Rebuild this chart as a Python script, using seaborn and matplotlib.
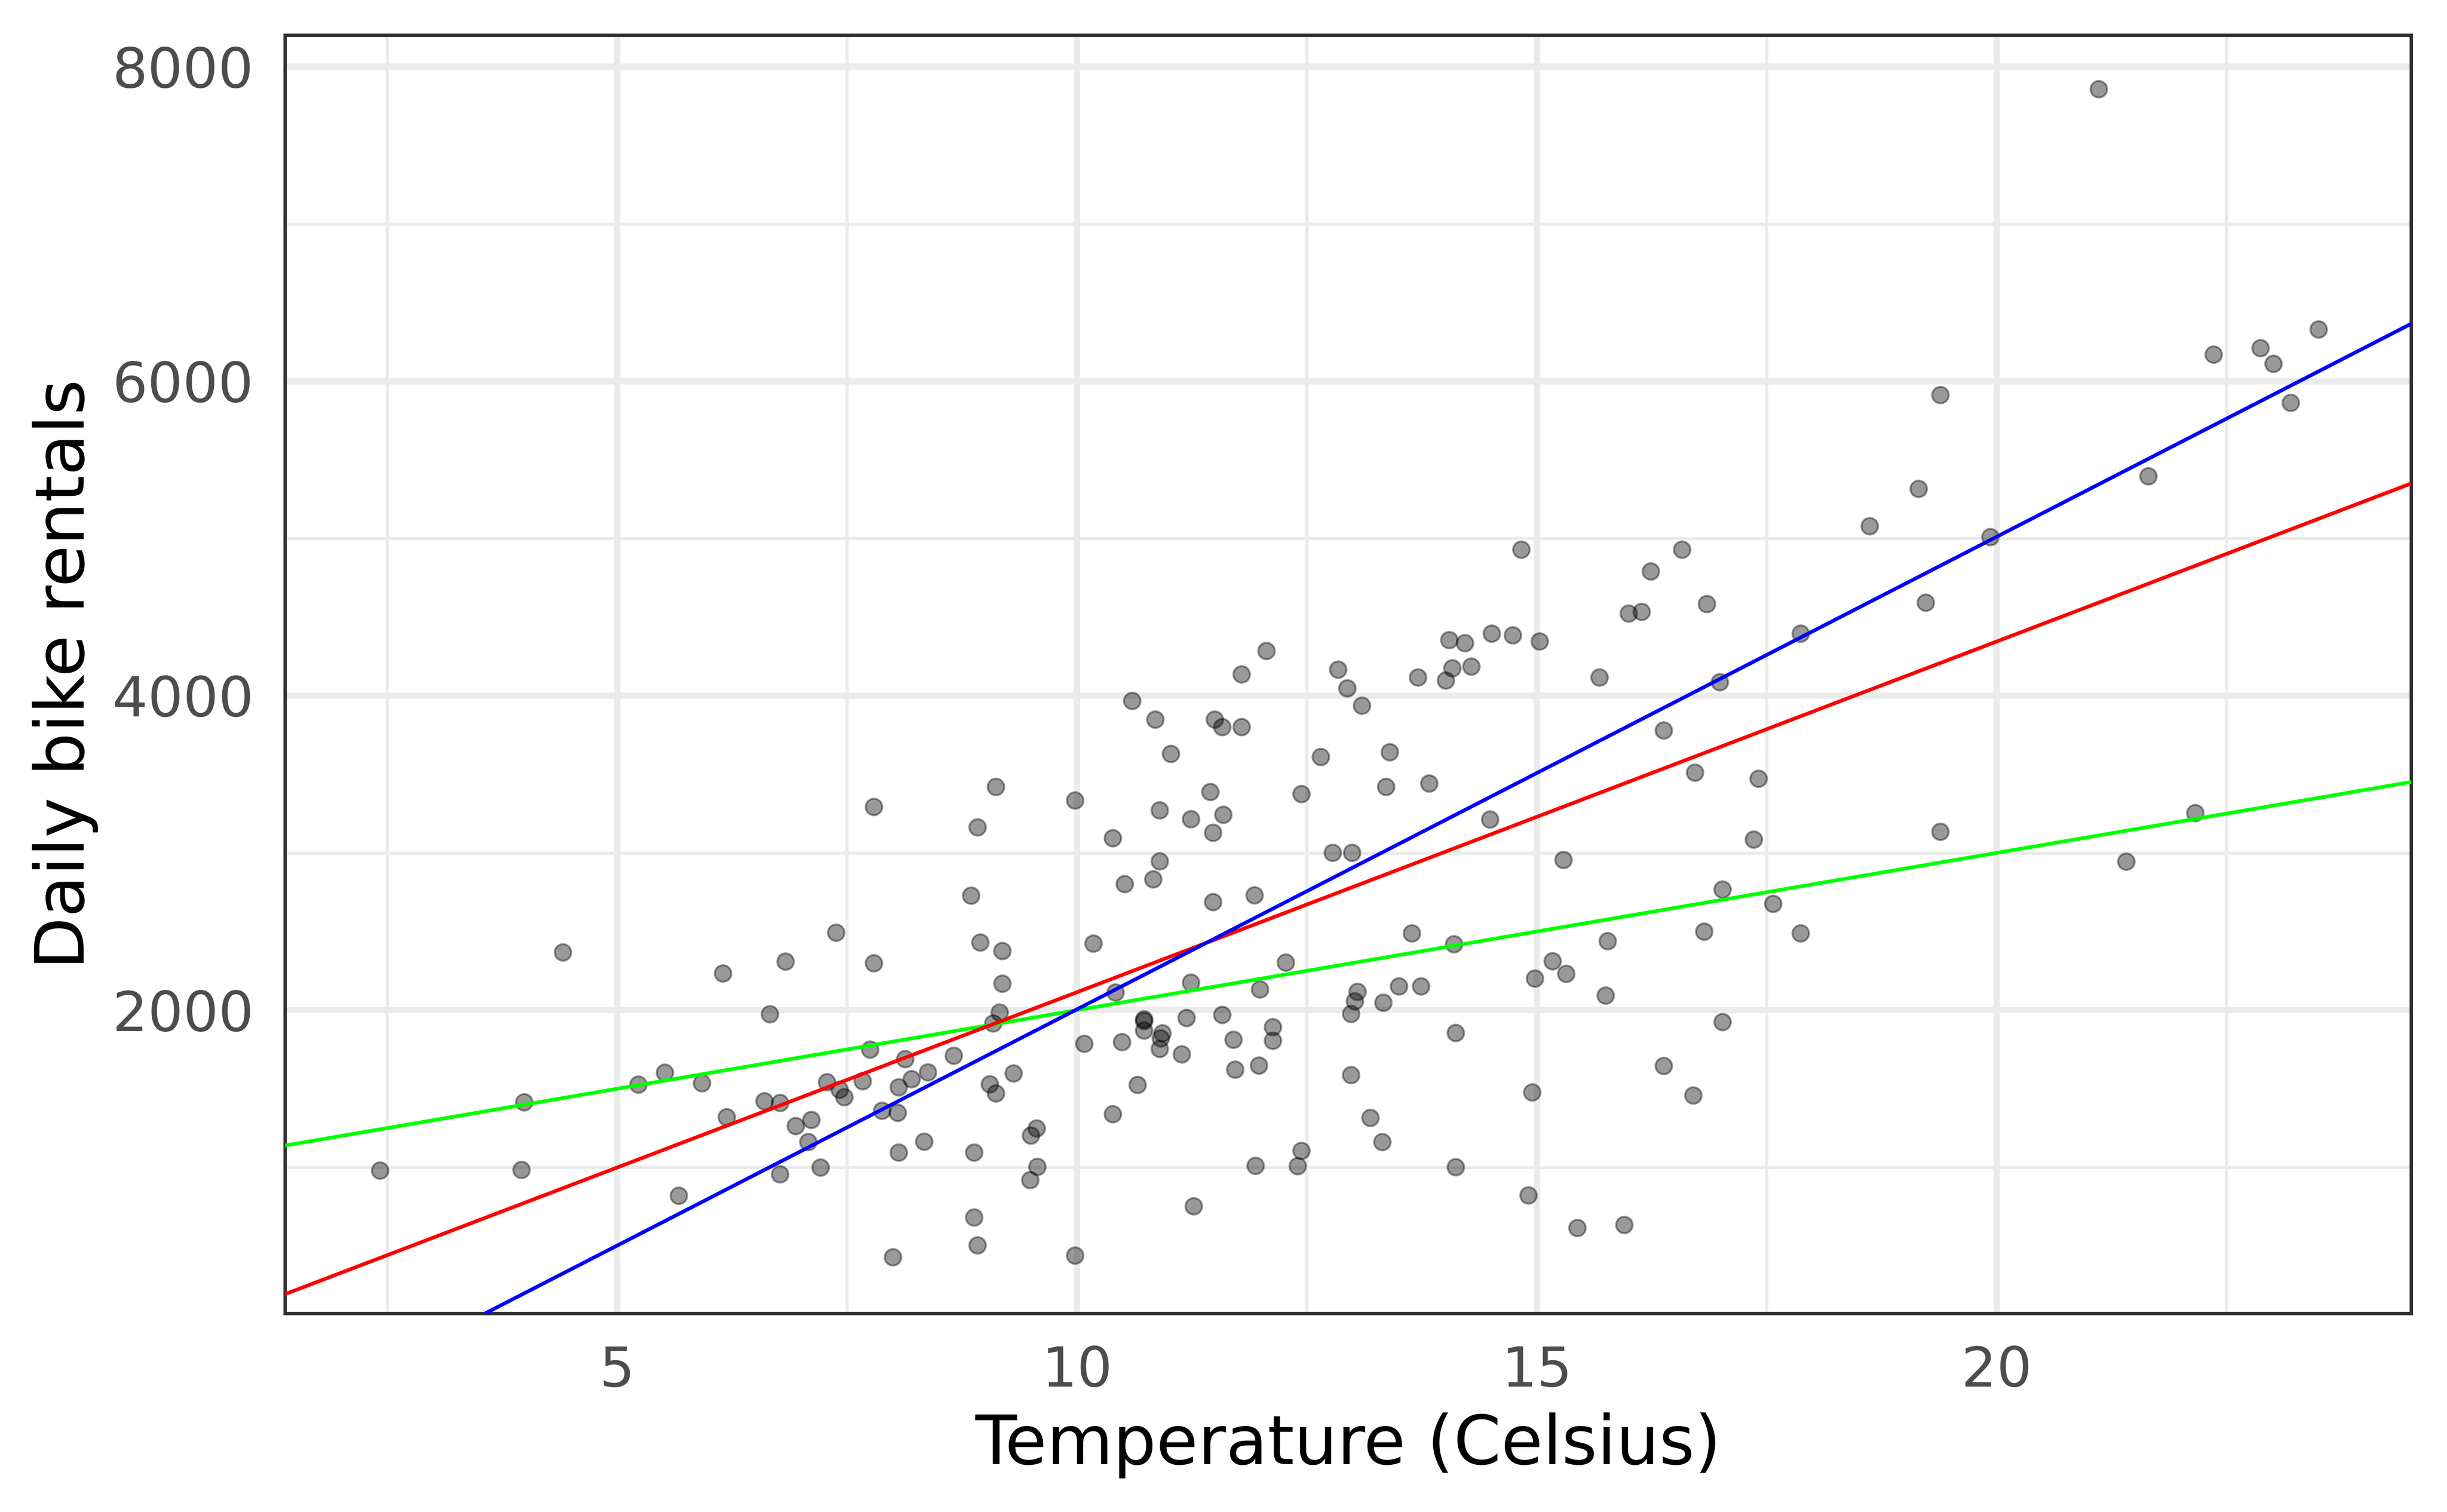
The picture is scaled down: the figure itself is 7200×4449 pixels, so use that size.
import pandas as pd
import seaborn as sns
import matplotlib.pyplot as plt
from matplotlib.ticker import MultipleLocator

# Daily temperature (Celsius) and bike rentals
temp = [2.42, 3.99, 3.96, 4.41, 5.23, 5.52, 5.67, 5.92, 6.15, 6.19,
        6.66, 6.60, 6.77, 6.77, 6.83, 6.94, 7.11, 7.08, 7.21, 7.28,
        7.38, 7.42, 7.47, 7.67, 7.75, 7.79, 7.79, 7.88, 8.00, 8.06,
        8.05, 8.06, 8.13, 8.20, 8.34, 8.38, 8.66, 8.85, 8.88, 8.88,
        8.92, 8.92, 8.95, 9.05, 9.09, 9.12, 9.12, 9.19, 9.16, 9.19,
        9.31, 9.49, 9.50, 9.56, 9.57, 9.98, 9.98, 10.08, 10.18, 10.39,
        10.39, 10.42, 10.49, 10.52, 10.60, 10.66, 10.73, 10.73, 10.73, 10.83,
        10.85, 10.90, 10.90, 10.93, 10.91, 10.90, 11.02, 11.14, 11.19, 11.24,
        11.24, 11.27, 11.45, 11.48, 11.48, 11.50, 11.58, 11.59, 11.58, 11.70,
        11.72, 11.79, 11.79, 11.93, 11.94, 11.99, 11.98, 12.06, 12.13, 12.13,
        12.27, 12.44, 12.44, 12.40, 12.65, 12.78, 12.84, 12.94, 12.99, 12.98,
        12.98, 13.02, 13.05, 13.10, 13.19, 13.32, 13.33, 13.36, 13.40, 13.50,
        13.64, 13.71, 13.74, 13.83, 14.01, 14.05, 14.08, 14.10, 14.12, 14.12,
        14.22, 14.29, 14.51, 14.49, 14.74, 14.83, 14.91, 14.95, 14.98, 15.03,
        15.17, 15.29, 15.32, 15.44, 15.68, 15.75, 15.77, 15.95, 16.00, 16.14,
        16.24, 16.38, 16.38, 16.58, 16.70, 16.72, 16.82, 16.85, 16.99, 17.02,
        17.02, 17.36, 17.41, 17.57, 17.87, 17.87, 18.62, 19.15, 19.23, 19.39,
        19.39, 19.93, 21.11, 21.41, 21.65, 22.16, 22.36, 22.87, 23.01, 23.20,
        23.50]

rentals = [981, 1415, 985, 2369, 1527, 1604, 820, 1535, 2234, 1320,
           1975, 1421, 1410, 956, 2310, 1263, 1302, 1162, 999, 1543,
           2494, 1495, 1448, 1549, 1750, 3293, 2299, 1361, 430, 1510,
           1348, 1095, 1690, 1562, 1165, 1605, 1710, 2729, 1095, 683,
           3163, 506, 2431, 1529, 1917, 3421, 1471, 2377, 1986, 2169,
           1599, 920, 1203, 1248, 1004, 3334, 440, 1787, 2424, 3094,
           1340, 2113, 1798, 2802, 3968, 1525, 1943, 1932, 1872, 2833,
           3849, 3272, 2947, 1854, 1822, 1755, 3631, 1720, 1951, 3216,
           2176, 753, 3389, 3129, 2688, 3849, 3800, 3244, 1970, 1812,
           1623, 4137, 3800, 2731, 1010, 2133, 1648, 4285, 1892, 1806,
           2303, 3375, 1106, 1008, 3611, 3001, 4166, 4047, 3001, 1977,
           1588, 2057, 2117, 3938, 1316, 1162, 2048, 3421, 3641, 2153,
           2490, 4117, 2153, 3442, 4097, 4355, 4176, 2420, 1855, 1002,
           4335, 4186, 4395, 3214, 4385, 4930, 823, 1478, 2202, 4345,
           2311, 2956, 2232, 615, 4117, 2093, 2440, 635, 4523, 4533,
           4791, 3780, 1647, 4930, 1458, 3512, 2500, 4583, 4087, 2768,
           1924, 3085, 3472, 2678, 4395, 2490, 5079, 5317, 4593, 5912,
           3135, 5010, 7857, 2946, 5396, 3254, 6170, 6210, 6111, 5863,
           6329]

# Reference lines (intercept, slope)
line_intercepts = [1000, -116, -1000]
line_slopes = [100, 223, 300.5]
line_colors = ["#00FF00", "#FF0000", "#0000FF"]

x_ticks = [5, 10, 15, 20]
y_ticks = [2000, 4000, 6000, 8000]

df = pd.DataFrame({"temp": temp, "rentals": rentals})

sns.set_style("white")
plt.rcParams['font.family'] = ['DejaVu Sans']

fig = plt.figure(figsize=(12, 7.415))
ax = fig.add_axes([0.1165, 0.1313, 0.8689, 0.8453])

# Points
sns.scatterplot(data=df, x="temp", y="rentals", color="black", alpha=0.4,
                s=34, edgecolor="black", linewidth=0.7, ax=ax, zorder=2)

# Lines across the whole panel
for b, m, c in zip(line_intercepts, line_slopes, line_colors):
    ax.axline((0, b), slope=m, color=c, linewidth=1.3, zorder=3)

ax.set_xlim(1.39, 24.51)
ax.set_ylim(71, 8199)
ax.set_xticks(x_ticks)
ax.set_yticks(y_ticks)
ax.xaxis.set_minor_locator(MultipleLocator(2.5))
ax.yaxis.set_minor_locator(MultipleLocator(1000))

# theme_bw style grid and frame
ax.set_axisbelow(True)
ax.grid(which="major", color="#EBEBEB", linewidth=2.2)
ax.grid(which="minor", color="#EBEBEB", linewidth=1.1)
for sp in ax.spines.values():
    sp.set_color("#333333")
    sp.set_linewidth(1.2)
ax.tick_params(which="major", length=6.6, width=2.2, color="#333333",
               labelsize=19.6, labelcolor="#4D4D4D", pad=4.5)
ax.tick_params(which="minor", length=0)

ax.set_xlabel("Temperature (Celsius)", fontsize=24, color="black", labelpad=5)
ax.set_ylabel("Daily bike rentals", fontsize=24, color="black", labelpad=5)

plt.savefig("out.png", dpi=600)
